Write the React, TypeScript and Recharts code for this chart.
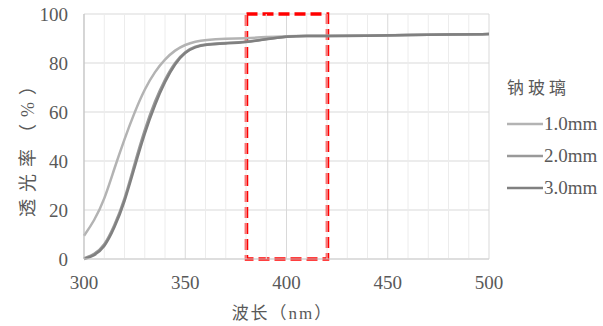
import React from "react";
import {
  LineChart,
  Line,
  XAxis,
  YAxis,
  CartesianGrid,
  ReferenceLine,
  ReferenceArea,
  Legend,
  Label,
} from "recharts";

// wavelength (nm)
const wavelengths = [300, 305, 310, 315, 320, 325, 330, 335, 340, 345, 350, 355, 360, 370, 380, 390, 400, 410, 420, 440, 460, 480, 500];
// transmittance (%)
const glass10 = [9.5, 15.5, 24, 37, 49, 60, 69.5, 76.5, 81.6, 85.3, 87.5, 88.8, 89.4, 89.9, 90.1, 90.6, 91, 91.2, 91.1, 91.2, 91.4, 91.6, 91.8];
const glass20 = [0.3, 1.8, 5.2, 13.5, 24, 39, 53, 64.5, 73.5, 80.5, 84.8, 86.8, 87.7, 88.2, 88.5, 89.8, 90.8, 91.1, 91, 91.1, 91.4, 91.6, 91.8];
const glass30 = [0, 1.3, 4.5, 12.5, 23, 37.5, 51.5, 63, 72.5, 79.8, 84.5, 86.6, 87.5, 88, 88.4, 89.7, 90.8, 91.1, 91, 91.1, 91.4, 91.6, 91.8];

const seriesNames = ["1.0mm", "2.0mm", "3.0mm"];
const seriesColors = ["#b3b3b3", "#999999", "#808080"];
const legendTitle = "钠玻璃";

const xTicks = [300, 350, 400, 450, 500];
const xMinor = [310, 320, 330, 340, 360, 370, 380, 390, 410, 420, 430, 440, 460, 470, 480, 490];
const yTicks = [0, 20, 40, 60, 80, 100];
const highlight = { from: 380, to: 420 };

const data = wavelengths.map((w, i) => ({
  w,
  s1: glass10[i],
  s2: glass20[i],
  s3: glass30[i],
}));

const FONT = "'Liberation Serif', 'Noto Sans CJK SC', serif";
const TEXT = "#595959";

const LegendBox = () => (
  <div style={{ fontFamily: FONT, color: TEXT }}>
    <div style={{ fontSize: 17, letterSpacing: 4, marginBottom: 9, lineHeight: "20px" }}>{legendTitle}</div>
    {seriesNames.map((n, i) => (
      <div key={n} style={{ display: "flex", alignItems: "center", height: 32, fontSize: 19 }}>
        <svg width={36} height={10} style={{ marginRight: 1 }}>
          <line x1={0} y1={5} x2={36} y2={5} stroke={seriesColors[i]} strokeWidth={2.5} />
        </svg>
        <span>{n}</span>
      </div>
    ))}
  </div>
);

// dashed frame drawn from the area's scaled box
const DashedBox = (props: any) => {
  const { x, y, width, height } = props;
  return (
    <rect
      x={Math.round(x) + 0.5}
      y={Math.round(y)}
      width={Math.round(width)}
      height={Math.round(height)}
      fill="none"
      style={{ stroke: "#ff0000", strokeWidth: 3.5, strokeDasharray: "11 5", strokeOpacity: 1 }}
    />
  );
};

export default function App() {
  const keys = ["s1", "s2", "s3"];
  return (
    <div style={{ position: "absolute", left: 0, top: 0, background: "#fff" }}>
      <LineChart width={603} height={326} data={data} margin={{ top: 14, right: 114, left: 0, bottom: 0 }}>
        <CartesianGrid stroke="#d9d9d9" vertical={true} />
        {xMinor.map((x) => (
          <ReferenceLine key={x} x={x} stroke="#ececec" strokeWidth={1} />
        ))}
        <XAxis
          dataKey="w"
          type="number"
          domain={[300, 500]}
          ticks={xTicks}
          height={67}
          tickLine={false}
          axisLine={{ stroke: "#d0d0d0" }}
          tickMargin={11}
          tick={{ fontSize: 19, fill: TEXT, fontFamily: FONT }}
        >
          <Label
            content={({ viewBox }: any) => (
              <text
                x={viewBox.x + viewBox.width / 2 - 4}
                y={viewBox.y + 54}
                textAnchor="middle"
                dominantBaseline="central"
                fontSize={17}
                fill={TEXT}
                fontFamily={FONT}
                letterSpacing={2}
              >
                波长（nm）
              </text>
            )}
          />
        </XAxis>
        <YAxis
          type="number"
          domain={[0, 100]}
          ticks={yTicks}
          width={84}
          tickLine={false}
          axisLine={{ stroke: "#bfbfbf" }}
          tickMargin={10}
          tick={{ fontSize: 19, fill: TEXT, fontFamily: FONT }}
        >
          <Label
            content={({ viewBox }: any) => {
              const cx = 27.5;
              const cy = viewBox.y + viewBox.height / 2 + 7;
              return (
                <text
                  x={cx}
                  y={cy}
                  transform={`rotate(-90 ${cx} ${cy})`}
                  textAnchor="middle"
                  dominantBaseline="central"
                  fontSize={18}
                  fill={TEXT}
                  fontFamily={FONT}
                  letterSpacing={7}
                >
                  透光率（%）
                </text>
              );
            }}
          />
        </YAxis>
        {keys.map((k, i) => (
          <Line
            key={k}
            dataKey={k}
            name={seriesNames[i]}
            type="basis"
            stroke={seriesColors[i]}
            strokeWidth={2.5}
            dot={false}
            isAnimationActive={false}
          />
        ))}
        <ReferenceArea
          x1={highlight.from}
          x2={highlight.to}
          y1={0}
          y2={100}
          ifOverflow="visible"
          shape={DashedBox}
        />
        <Legend
          layout="vertical"
          align="center"
          verticalAlign="middle"
          wrapperStyle={{ left: 507, top: 79, width: 96, height: 120 }}
          content={() => <LegendBox />}
        />
      </LineChart>
    </div>
  );
}
